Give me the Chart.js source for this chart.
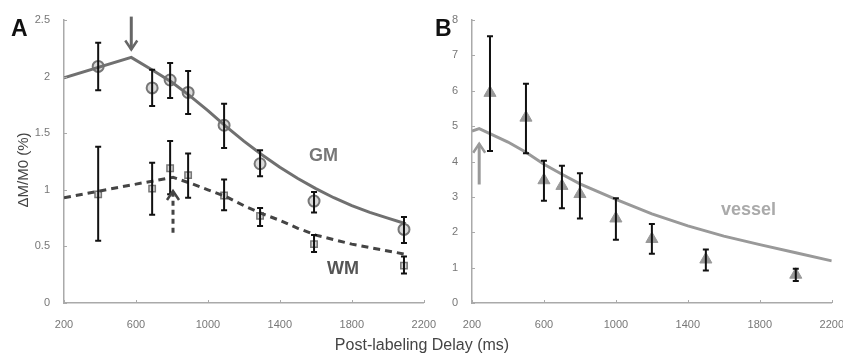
<!DOCTYPE html>
<html>
<head>
<meta charset="utf-8">
<script src="https://cdn.jsdelivr.net/npm/chart.js@4/dist/chart.umd.min.js"></script>
<style>
  body { margin: 0; background: #fff; font-family: "Liberation Sans", Arial, sans-serif; }
  #wrap { position: relative; width: 843px; height: 354px; overflow: hidden; }
  #cA { position: absolute; left: 0; top: 0; }
  #cB { position: absolute; left: 430px; top: 0; }
  .lbl { position: absolute; font-weight: bold; white-space: nowrap; line-height: 1; }
</style>
</head>
<body>
<div id="wrap">
  <canvas id="cA" width="443" height="354"></canvas>
  <canvas id="cB" width="421" height="354"></canvas>
  <div class="lbl" style="left:11px;top:17px;font-size:23px;color:#111">A</div>
  <div class="lbl" style="left:435px;top:17px;font-size:23px;color:#111">B</div>
  <div class="lbl" style="left:309px;top:146px;font-size:18px;color:#777">GM</div>
  <div class="lbl" style="left:327px;top:259px;font-size:18px;color:#555">WM</div>
  <div class="lbl" style="left:721px;top:200px;font-size:18px;color:#aaa">vessel</div>
  <div class="lbl" style="left:22px;top:170px;font-size:15px;font-weight:normal;color:#444;transform:translate(-50%,-50%) rotate(-90deg)">ΔM/M0 (%)</div>
  <div class="lbl" style="left:422px;top:345px;font-size:16px;font-weight:normal;color:#444;transform:translate(-50%,-50%)">Post-labeling Delay (ms)</div>
</div>
<script>
// panel A measured points
const gmX = [390, 690, 790, 890, 1090, 1290, 1590, 2090]
const gmY = [2.09, 1.90, 1.97, 1.86, 1.57, 1.23, 0.90, 0.65]
const gmHi = [2.30, 2.06, 2.12, 2.05, 1.76, 1.35, 0.98, 0.76]
const gmLo = [1.88, 1.74, 1.81, 1.67, 1.37, 1.12, 0.80, 0.53]
const wmX = [390, 690, 790, 890, 1090, 1290, 1590, 2090]
const wmY = [0.96, 1.01, 1.19, 1.13, 0.95, 0.77, 0.52, 0.33]
const wmHi = [1.38, 1.24, 1.43, 1.32, 1.09, 0.84, 0.60, 0.41]
const wmLo = [0.55, 0.78, 0.96, 0.93, 0.82, 0.68, 0.45, 0.26]

// panel A model curves
const gmFitX = [200, 574, 700, 800, 900, 1000, 1100, 1200, 1300, 1400, 1500, 1600, 1700, 1800, 1900, 2000, 2100]
const gmFitY = [1.99, 2.17, 2.05, 1.95, 1.83, 1.70, 1.56, 1.43, 1.31, 1.20, 1.10, 1.01, 0.93, 0.86, 0.80, 0.75, 0.70]
const wmFitX = [200, 400, 600, 806, 900, 1000, 1100, 1200, 1300, 1400, 1500, 1600, 1700, 1800, 1900, 2000, 2100]
const wmFitY = [0.93, 0.99, 1.05, 1.11, 1.06, 1.00, 0.94, 0.86, 0.79, 0.73, 0.66, 0.60, 0.56, 0.52, 0.49, 0.46, 0.43]

// panel B
const vX = [300, 500, 600, 700, 800, 1000, 1200, 1500, 2000]
const vY = [5.94, 5.24, 3.47, 3.31, 3.08, 2.39, 1.81, 1.23, 0.80]
const vHi = [7.54, 6.20, 4.02, 3.88, 3.67, 2.96, 2.23, 1.51, 0.97]
const vLo = [4.30, 4.23, 2.89, 2.68, 2.39, 1.79, 1.39, 0.92, 0.62]
const vFitX = [200, 240, 400, 500, 600, 700, 800, 1000, 1200, 1400, 1600, 1800, 2000, 2200]
const vFitY = [4.86, 4.93, 4.55, 4.26, 3.92, 3.64, 3.37, 2.93, 2.52, 2.18, 1.89, 1.65, 1.42, 1.19]

// arrows: [x, fromY, toY]
const arrowsA = [
  { x: 574, from: 2.53, to: 2.24, color: '#666', dash: [] },
  { x: 806, from: 0.62, to: 0.99, color: '#444', dash: [5, 4] },
]
const arrowsB = [{ x: 240, from: 3.35, to: 4.5, color: '#999', dash: [] }]

const xTicks = [200, 600, 1000, 1400, 1800, 2200]

const pts = (xs, ys) => xs.map((x, i) => ({ x: x, y: ys[i] }))

// error bars, inner tick marks and arrows
const extras = {
  id: 'extras',
  afterDatasetsDraw(chart, args, opts) {
    const ctx = chart.ctx
    const xs = chart.scales.x
    const ys = chart.scales.y
    ctx.save()
    // inner ticks
    ctx.strokeStyle = '#aaa'
    ctx.lineWidth = 1
    xs.ticks.forEach((t) => {
      const px = Math.round(xs.getPixelForValue(t.value)) + 0.5
      ctx.beginPath()
      ctx.moveTo(px, ys.bottom)
      ctx.lineTo(px, ys.bottom - 3)
      ctx.stroke()
    })
    ys.ticks.forEach((t) => {
      const py = Math.round(ys.getPixelForValue(t.value)) + 0.5
      ctx.beginPath()
      ctx.moveTo(xs.left, py)
      ctx.lineTo(xs.left + 3, py)
      ctx.stroke()
    })
    // error bars
    ctx.strokeStyle = '#111'
    ctx.lineWidth = 2
    opts.bars.forEach((b) => {
      b.x.forEach((xv, i) => {
        const px = xs.getPixelForValue(xv)
        const top = ys.getPixelForValue(b.hi[i])
        const bot = ys.getPixelForValue(b.lo[i])
        ctx.beginPath()
        ctx.moveTo(px, top)
        ctx.lineTo(px, bot)
        ctx.moveTo(px - 3, top)
        ctx.lineTo(px + 3, top)
        ctx.moveTo(px - 3, bot)
        ctx.lineTo(px + 3, bot)
        ctx.stroke()
      })
    })
    // arrows
    opts.arrows.forEach((a) => {
      const px = xs.getPixelForValue(a.x)
      const y0 = ys.getPixelForValue(a.from)
      const y1 = ys.getPixelForValue(a.to)
      const dir = y1 > y0 ? 1 : -1
      ctx.strokeStyle = a.color
      ctx.lineWidth = 3
      ctx.setLineDash(a.dash)
      ctx.beginPath()
      ctx.moveTo(px, y0)
      ctx.lineTo(px, y1)
      ctx.stroke()
      ctx.setLineDash([])
      ctx.lineWidth = 2.5
      ctx.beginPath()
      ctx.moveTo(px - 6, y1 - dir * 9)
      ctx.lineTo(px, y1)
      ctx.lineTo(px + 6, y1 - dir * 9)
      ctx.stroke()
    })
    ctx.restore()
  },
}

function makeScales(yMax, yStep, yWidth) {
  return {
    x: {
      type: 'linear',
      min: 200,
      max: 2200,
      afterBuildTicks: (s) => { s.ticks = xTicks.map((v) => ({ value: v })) },
      afterFit: (s) => { s.height = 51 },
      border: { color: '#aaa', width: 1.5 },
      grid: { display: false },
      ticks: { color: '#777', font: { size: 11, family: 'Liberation Sans' }, padding: 7, maxRotation: 0, callback: (v) => String(v) },
    },
    y: {
      min: 0,
      max: yMax,
      afterFit: (s) => { s.width = yWidth },
      border: { color: '#aaa', width: 1.5 },
      grid: { display: false },
      ticks: { stepSize: yStep, color: '#777', font: { size: 11, family: 'Liberation Sans' }, padding: 6, callback: (v) => String(v) },
    },
  }
}

const common = {
  responsive: false,
  animation: false,
  plugins: { legend: { display: false }, tooltip: { enabled: false } },
}

new Chart(document.getElementById('cA'), {
  type: 'scatter',
  data: {
    datasets: [
      { data: pts(gmFitX, gmFitY), showLine: true, borderColor: '#707070', borderWidth: 3, pointRadius: 0 },
      { data: pts(wmFitX, wmFitY), showLine: true, borderColor: '#444', borderWidth: 3, borderDash: [7, 5], pointRadius: 0 },
      { data: pts(gmX, gmY), pointStyle: 'circle', pointRadius: 5.5, borderColor: '#777', borderWidth: 2, backgroundColor: 'rgba(150,150,150,0.35)' },
      { data: pts(wmX, wmY), pointStyle: 'rect', pointRadius: 4.5, borderColor: '#777', borderWidth: 1.5, backgroundColor: 'rgba(150,150,150,0.35)' },
    ],
  },
  options: {
    ...common,
    layout: { padding: { top: 20, right: 7, left: 0, bottom: 0 } },
    scales: makeScales(2.5, 0.5, 64),
    plugins: {
      ...common.plugins,
      extras: {
        bars: [{ x: gmX, hi: gmHi, lo: gmLo }, { x: wmX, hi: wmHi, lo: wmLo }],
        arrows: arrowsA,
      },
    },
  },
  plugins: [extras],
})

new Chart(document.getElementById('cB'), {
  type: 'scatter',
  data: {
    datasets: [
      { data: pts(vFitX, vFitY), showLine: true, borderColor: '#999', borderWidth: 3, pointRadius: 0 },
      { data: pts(vX, vY), pointStyle: 'triangle', pointRadius: 7, borderColor: '#999', borderWidth: 1, backgroundColor: '#999' },
    ],
  },
  options: {
    ...common,
    layout: { padding: { top: 20, right: 13, left: 0, bottom: 0 } },
    scales: makeScales(8, 1, 42),
    plugins: {
      ...common.plugins,
      extras: {
        bars: [{ x: vX, hi: vHi, lo: vLo }],
        arrows: arrowsB,
      },
    },
  },
  plugins: [extras],
})
</script>
</body>
</html>
